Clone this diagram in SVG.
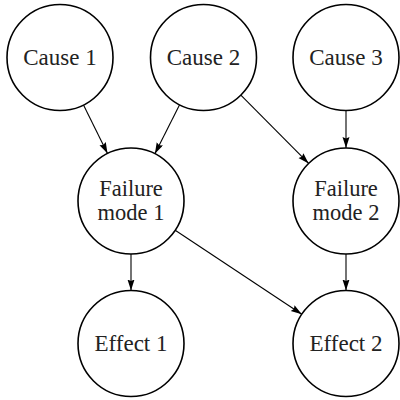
<svg xmlns="http://www.w3.org/2000/svg" width="400" height="400" viewBox="0 0 400 400">
<style>
.node circle{fill:#fff;stroke:#000;stroke-width:1.6}
.node text{font-family:"Liberation Serif","DejaVu Serif",serif;font-size:23px;fill:#222;text-anchor:middle}
.node text.two{font-size:22.5px}
.edges line{stroke:#000;stroke-width:1.1;marker-end:url(#arr)}
</style>
<defs>
<marker id="arr" markerUnits="userSpaceOnUse" markerWidth="12" markerHeight="8" refX="11" refY="3.5" orient="auto">
<path d="M0,0 L11,3.5 L0,7 L1.5,3.5 z" fill="#000"/>
</marker>
</defs>
<rect width="400" height="400" fill="#fff"/>
<g class="edges">
<line x1="83.5" y1="105" x2="107.5" y2="153.5"/>
<line x1="179.6" y1="104.8" x2="154.9" y2="153.7"/>
<line x1="240.85" y1="95.1" x2="308.65" y2="163.4"/>
<line x1="346" y1="110.5" x2="346" y2="148"/>
<line x1="131" y1="254" x2="131" y2="290.5"/>
<line x1="175.2" y1="230.3" x2="301.8" y2="314.2"/>
<line x1="346" y1="254" x2="346" y2="290.5"/>
</g>
<g id="cause1" class="node"><circle cx="60" cy="57.5" r="53"/><text x="60" y="65">Cause 1</text></g>
<g id="cause2" class="node"><circle cx="203.5" cy="57.5" r="53"/><text x="203.5" y="65">Cause 2</text></g>
<g id="cause3" class="node"><circle cx="346" cy="57.5" r="53"/><text x="346" y="65">Cause 3</text></g>
<g id="fm1" class="node"><circle cx="131" cy="201" r="53"/><text class="two" x="131" y="196">Failure</text><text class="two" x="131" y="219.5">mode 1</text></g>
<g id="fm2" class="node"><circle cx="346" cy="201" r="53"/><text class="two" x="346" y="196">Failure</text><text class="two" x="346" y="219.5">mode 2</text></g>
<g id="effect1" class="node"><circle cx="131" cy="343.5" r="53"/><text x="131" y="351">Effect 1</text></g>
<g id="effect2" class="node"><circle cx="346" cy="343.5" r="53"/><text x="346" y="351">Effect 2</text></g>
</svg>
